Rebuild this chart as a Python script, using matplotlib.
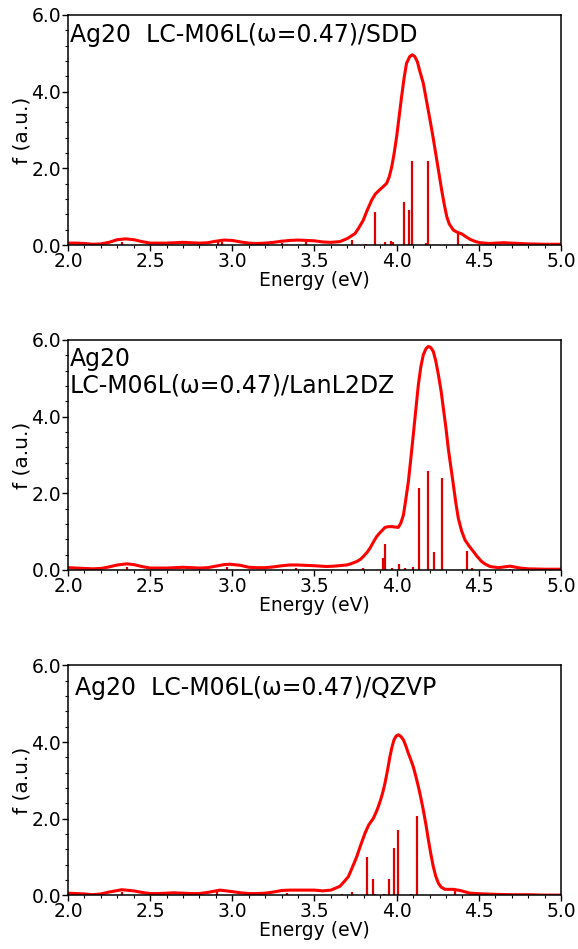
import matplotlib
matplotlib.use("Agg")
import matplotlib.pyplot as plt
import numpy as np
from matplotlib.ticker import MultipleLocator, FormatStrFormatter

# Ag20 / SDD: broadened spectrum and oscillator strengths
sdd_energy = [2.0, 2.05, 2.1, 2.15, 2.2, 2.25, 2.3, 2.35, 2.4, 2.45, 2.5, 2.55, 2.6, 2.65, 2.7,
              2.75, 2.8, 2.85, 2.9, 2.95, 3.0, 3.05, 3.1, 3.15, 3.2, 3.25, 3.3, 3.35, 3.4, 3.45,
              3.5, 3.55, 3.6, 3.655, 3.7, 3.747, 3.77, 3.797, 3.82, 3.848, 3.87, 3.899, 3.92,
              3.939, 3.955, 3.97, 3.985, 4.0, 4.015, 4.03, 4.045, 4.06, 4.08, 4.095, 4.11, 4.126,
              4.14, 4.162, 4.18, 4.203, 4.22, 4.244, 4.26, 4.274, 4.29, 4.305, 4.32, 4.345, 4.37,
              4.396, 4.42, 4.446, 4.48, 4.507, 4.567, 4.6, 4.65, 4.7, 4.8, 4.9, 5.0]
sdd_f = [0.05, 0.05, 0.04, 0.02, 0.03, 0.07, 0.14, 0.16, 0.14, 0.09, 0.05, 0.05, 0.05, 0.06, 0.07,
         0.06, 0.05, 0.06, 0.10, 0.13, 0.12, 0.08, 0.05, 0.04, 0.05, 0.07, 0.10, 0.12, 0.13, 0.12,
         0.11, 0.08, 0.07, 0.09, 0.17, 0.30, 0.45, 0.65, 0.90, 1.17, 1.33, 1.45, 1.53,
         1.61, 1.78, 2.04, 2.40, 2.83, 3.35, 3.87, 4.35, 4.74, 4.92, 4.96, 4.92, 4.78,
         4.55, 4.22, 3.80, 3.26, 2.85, 2.22, 1.80, 1.43, 1.05, 0.74, 0.55, 0.39, 0.33,
         0.29, 0.22, 0.15, 0.09, 0.06, 0.04, 0.05, 0.06, 0.05, 0.03, 0.02, 0.02]
sdd_stick_e = [2.33, 2.91, 2.94, 3.3, 3.45, 3.726, 3.813, 3.870, 3.929, 3.965, 3.975, 4.043,
               4.073, 4.091, 4.177, 4.189, 4.375, 4.43]
sdd_stick_f = [0.08, 0.07, 0.07, 0.05, 0.08, 0.13, 0.03, 0.85, 0.07, 0.10, 0.08, 1.11,
               0.91, 2.19, 0.05, 2.19, 0.30, 0.03]

# Ag20 / LanL2DZ
lanl_energy = [2.0, 2.05, 2.1, 2.15, 2.2, 2.25, 2.3, 2.357, 2.4, 2.45, 2.5, 2.55, 2.6, 2.65, 2.7,
               2.75, 2.8, 2.85, 2.9, 2.95, 2.986, 3.05, 3.1, 3.15, 3.2, 3.25, 3.3, 3.35, 3.39,
               3.45, 3.5, 3.574, 3.62, 3.696, 3.72, 3.757, 3.78, 3.797, 3.82, 3.838, 3.86, 3.878,
               3.9, 3.929, 3.95, 3.970, 3.99, 4.010, 4.025, 4.041, 4.055, 4.071, 4.086, 4.101,
               4.117, 4.132, 4.147, 4.162, 4.178, 4.193, 4.208, 4.223, 4.238, 4.254, 4.27, 4.284,
               4.3, 4.314, 4.33, 4.345, 4.36, 4.375, 4.395, 4.416, 4.44, 4.467, 4.49, 4.517,
               4.54, 4.568, 4.62, 4.69, 4.75, 4.8, 4.9, 5.0]
lanl_f = [0.06, 0.05, 0.04, 0.03, 0.04, 0.08, 0.13, 0.16, 0.14, 0.09, 0.05, 0.05, 0.05, 0.06, 0.07,
          0.06, 0.05, 0.06, 0.10, 0.14, 0.15, 0.12, 0.07, 0.06, 0.06, 0.08, 0.11, 0.13, 0.13,
          0.12, 0.11, 0.09, 0.10, 0.13, 0.16, 0.22, 0.28, 0.35, 0.46, 0.57, 0.74, 0.87,
          0.98, 1.11, 1.13, 1.13, 1.12, 1.11, 1.22, 1.43, 1.82, 2.30, 2.90, 3.52,
          4.20, 4.83, 5.30, 5.61, 5.77, 5.83, 5.80, 5.70, 5.45, 5.09, 4.68, 4.22,
          3.70, 3.17, 2.68, 2.22, 1.75, 1.35, 1.02, 0.78, 0.63, 0.48, 0.35, 0.22,
          0.15, 0.09, 0.06, 0.10, 0.05, 0.03, 0.02, 0.02]
lanl_stick_e = [2.357, 2.966, 3.39, 3.793, 3.919, 3.929, 3.97, 4.016, 4.05, 4.101, 4.138, 4.189,
                4.225, 4.274, 4.428, 4.457, 4.69]
lanl_stick_f = [0.08, 0.07, 0.06, 0.05, 0.30, 0.67, 0.04, 0.15, 0.04, 0.09, 2.13, 2.58,
                0.48, 2.39, 0.50, 0.04, 0.03]

# Ag20 / QZVP
qzvp_energy = [2.0, 2.05, 2.1, 2.15, 2.2, 2.25, 2.327, 2.4, 2.45, 2.5, 2.55, 2.6, 2.64, 2.7, 2.75,
               2.8, 2.85, 2.925, 3.0, 3.05, 3.1, 3.15, 3.2, 3.25, 3.3, 3.35, 3.4, 3.45, 3.5,
               3.55, 3.6, 3.655, 3.68, 3.706, 3.73, 3.757, 3.78, 3.807, 3.83, 3.858, 3.88, 3.899,
               3.915, 3.929, 3.945, 3.959, 3.972, 3.984, 3.997, 4.010, 4.025, 4.041, 4.056, 4.071,
               4.086, 4.101, 4.116, 4.132, 4.147, 4.162, 4.178, 4.193, 4.208, 4.223, 4.238, 4.254,
               4.27, 4.294, 4.345, 4.386, 4.446, 4.53, 4.6, 4.7, 4.8, 4.9, 5.0]
qzvp_f = [0.06, 0.05, 0.04, 0.02, 0.04, 0.09, 0.15, 0.12, 0.08, 0.05, 0.05, 0.06, 0.07, 0.06, 0.05,
          0.05, 0.08, 0.14, 0.10, 0.07, 0.05, 0.05, 0.06, 0.09, 0.13, 0.14, 0.14, 0.14, 0.14,
          0.12, 0.14, 0.24, 0.36, 0.49, 0.73, 1.01, 1.30, 1.62, 1.84, 2.01, 2.22, 2.45,
          2.68, 2.93, 3.28, 3.62, 3.88, 4.06, 4.16, 4.19, 4.15, 4.06, 3.90, 3.71,
          3.54, 3.36, 3.12, 2.84, 2.55, 2.23, 1.85, 1.45, 1.08, 0.75, 0.50, 0.32,
          0.22, 0.16, 0.16, 0.13, 0.06, 0.04, 0.03, 0.02, 0.02, 0.01, 0.01]
qzvp_stick_e = [2.33, 2.905, 3.33, 3.665, 3.726, 3.822, 3.858, 3.867, 3.92, 3.953, 3.984, 4.010,
                4.087, 4.123, 4.354]
qzvp_stick_f = [0.08, 0.08, 0.07, 0.05, 0.08, 1.00, 0.43, 0.05, 0.04, 0.42, 1.25, 1.70,
                0.04, 2.08, 0.16]

titles = ["Ag20  LC-M06L(\u03c9=0.47)/SDD",
          "Ag20\nLC-M06L(\u03c9=0.47)/LanL2DZ",
          "Ag20  LC-M06L(\u03c9=0.47)/QZVP"]
title_pos = [(0.004, 0.965), (0.004, 0.97), (0.014, 0.955)]

panels = [
    (sdd_energy, sdd_f, sdd_stick_e, sdd_stick_f),
    (lanl_energy, lanl_f, lanl_stick_e, lanl_stick_f),
    (qzvp_energy, qzvp_f, qzvp_stick_e, qzvp_stick_f),
]
bottoms = [0.7418, 0.3994, 0.0564]

fig = plt.figure(figsize=(5.78, 9.49), dpi=100)

for i, (e, f, se, sf) in enumerate(panels):
    ax = fig.add_axes([0.1176, bottoms[i], 0.853, 0.2424])
    ax.vlines(se, 0, sf, color="#e00000", linewidth=1.6)
    ax.plot(e, f, color="red", linewidth=2.2, solid_joinstyle="round")

    ax.set_xlim(2.0, 5.0)
    ax.set_ylim(0.0, 6.0)
    ax.xaxis.set_major_locator(MultipleLocator(0.5))
    ax.xaxis.set_minor_locator(MultipleLocator(0.1))
    ax.yaxis.set_major_locator(MultipleLocator(2.0))
    ax.yaxis.set_minor_locator(MultipleLocator(0.4))
    ax.xaxis.set_major_formatter(FormatStrFormatter("%.1f"))
    ax.yaxis.set_major_formatter(FormatStrFormatter("%.1f"))
    ax.tick_params(which="both", direction="out", top=False, right=False, labelsize=13.5, pad=1)
    ax.tick_params(which="major", length=4, width=1)
    ax.tick_params(which="minor", length=2.5, width=0.8)
    for sp in ax.spines.values():
        sp.set_linewidth(1.1)

    ax.set_xlabel("Energy (eV)", fontsize=13.5, labelpad=0)
    ax.set_ylabel("f (a.u.)", fontsize=14.5, labelpad=0)
    ax.text(title_pos[i][0], title_pos[i][1], titles[i], transform=ax.transAxes,
            fontsize=17, va="top", ha="left", linespacing=1.15)

fig.savefig("out.png", dpi=100)
